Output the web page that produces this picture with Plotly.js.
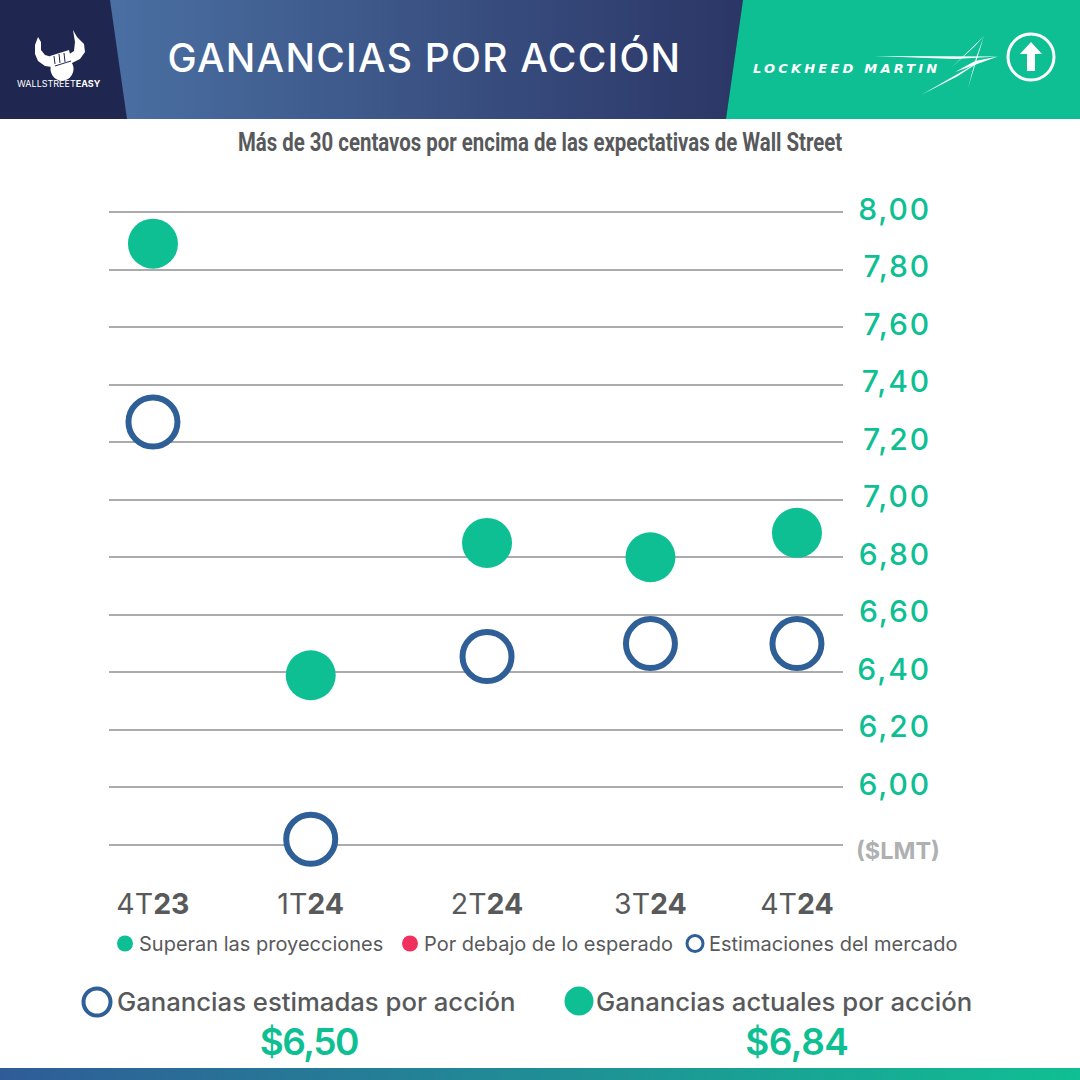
<!DOCTYPE html>
<html>
<head>
<meta charset="utf-8">
<script src="https://cdn.plot.ly/plotly-3.0.1.min.js"></script>
<style>
html,body{margin:0;padding:0;background:#fff;width:1080px;height:1080px;overflow:hidden}
#hdrLeft,#hdrMid,#hdrRight,#footBar{position:absolute;left:0;width:1080px}
#hdrLeft{top:0;height:119px;background:#1f2750}
#hdrMid{top:0;height:119px;background:linear-gradient(90deg,#4a6fa2 110px,#2b3666 743px);clip-path:polygon(110px 0,743px 0,726px 119px,127px 119px)}
#hdrRight{top:0;height:119px;background:#0dbf93;clip-path:polygon(743px 0,1080px 0,1080px 119px,726px 119px)}
#footBar{top:1068px;height:12px;background:linear-gradient(90deg,#2f5c98,#10bf93)}
#chart{position:absolute;left:0;top:0;width:1080px;height:1080px}
.annotation[data-index="0"] text{letter-spacing:1.25px}
.annotation[data-index="2"] text{letter-spacing:3.2px}
.annotation[data-index="3"] text{transform-box:fill-box;transform-origin:center;transform:scaleX(.785)}
.annotation[data-index="7"] text{letter-spacing:-1.5px}
.annotation[data-index="8"] text{letter-spacing:-0.5px}
.ytick text{letter-spacing:1.9px}
.legend .legendtext{transform:translateX(-6px)}
.legend .legendpoints path{stroke-width:3px !important}
</style>
</head>
<body>
<div id="hdrLeft"></div><div id="hdrMid"></div><div id="hdrRight"></div><div id="footBar"></div>
<div id="chart"></div>
<script>
// Data
const quarters = ["4T<b>23</b>", "1T<b>24</b>", "2T<b>24</b>", "3T<b>24</b>", "4T<b>24</b>"];
const quarterPos = [0, 0.98, 2.075, 3.09, 4];
const actualEPS = [7.89, 6.39, 6.85, 6.80, 6.885];
const estimatedEPS = [7.27, 5.82, 6.455, 6.50, 6.50];
const yTicks = [8.0, 7.8, 7.6, 7.4, 7.2, 7.0, 6.8, 6.6, 6.4, 6.2, 6.0, 5.8];
const yTickText = ["8,00", "7,80", "7,60", "7,40", "7,20", "7,00", "6,80", "6,60", "6,40", "6,20", "6,00", ""];
const seriesNames = ["Superan las proyecciones", "Por debajo de lo esperado", "Estimaciones del mercado"];
const titleText = "GANANCIAS POR ACCIÓN";
const subtitleText = "Más de 30 centavos por encima de las expectativas de Wall Street";
const summaryEstLabel = "Ganancias estimadas por acción";
const summaryActLabel = "Ganancias actuales por acción";
const summaryEst = "$6,50";
const summaryAct = "$6,84";

const GREEN = "#0dbf93", BLUE = "#2f5f97", PINK = "#f0305f", GRAY = "#58595b", NAVY = "#1f2750";
const FONT = "Inter, 'Open Sans', sans-serif";
const px = x => x / 1080, py = y => 1 - y / 1080;

function note(text, x, y, size, color, opts) {
  return Object.assign({
    text: text, xref: "paper", yref: "paper", x: px(x), y: py(y),
    showarrow: false, xanchor: "center", yanchor: "middle",
    font: {family: FONT, size: size, color: color}
  }, opts || {});
}
function pathShape(d, fill, lineColor, lineWidth) {
  return {type: "path", xref: "paper", yref: "paper", path: d,
    fillcolor: fill || "rgba(0,0,0,0)", line: {color: lineColor || "rgba(0,0,0,0)", width: lineWidth || 0}, layer: "above"};
}
function P(points, close) {
  return points.map((p, i) => (i ? "L" : "M") + px(p[0]).toFixed(5) + "," + py(p[1]).toFixed(5)).join(" ") + (close ? " Z" : "");
}
function circ(cx, cy, r, fill, lineColor, lineWidth) {
  return {type: "circle", xref: "paper", yref: "paper", x0: px(cx - r), x1: px(cx + r), y0: py(cy + r), y1: py(cy - r),
    fillcolor: fill, line: {color: lineColor || "rgba(0,0,0,0)", width: lineWidth || 0}, layer: "above"};
}

const traces = [
  {x: quarterPos, y: actualEPS, type: "scatter", mode: "markers", name: seriesNames[0],
   marker: {size: 50, color: GREEN}, cliponaxis: false, hoverinfo: "y"},
  {x: [null], y: [null], type: "scatter", mode: "markers", name: seriesNames[1],
   marker: {size: 16, color: PINK}, hoverinfo: "skip"},
  {x: quarterPos, y: estimatedEPS, type: "scatter", mode: "markers", name: seriesNames[2],
   marker: {size: 49, color: "#ffffff", line: {color: BLUE, width: 6}}, cliponaxis: false, hoverinfo: "y"}
];

const shapes = [
  // bull logo: horns, fist, head
  pathShape(P([[38,37],[41,42],[41,50],[45,55],[52,57],[52,67],[45,66],[38,61],[35,54],[35,45]], true), "#fff"),
  pathShape(P([[73,30],[77,37],[84,44],[85,52],[80,59],[72,63],[68,64],[68,55],[74,51],[75,42]], true), "#fff"),
  pathShape(P([[50,56],[69,50],[72,62],[63,66],[52,68]], true), "#fff"),
  circ(62, 69, 11.5, "#fff"),
  pathShape(P([[54,56],[55,64]]), null, NAVY, 1),
  pathShape(P([[59,54],[60,63]]), null, NAVY, 1),
  pathShape(P([[64,53],[65,62]]), null, NAVY, 1),
  pathShape(P([[55,66],[71,61]]), null, NAVY, 1),
  // Lockheed star
  pathShape(P([[874,56],[998,56.5],[955,59]], true), "#fff"),
  pathShape(P([[998,56.5],[955,72],[975,61]], true), "#fff"),
  pathShape(P([[984,36],[951,68],[975,46]], true), "#fff"),
  pathShape(P([[984,36],[968,88],[976,58]], true), "#fff"),
  pathShape(P([[921,95],[982,60],[958,76]], true), "#fff"),
  // arrow icon
  circ(1031, 57, 23, "rgba(0,0,0,0)", "#fff", 3),
  pathShape(P([[1031,42],[1042,54],[1035,54],[1035,71],[1027,71],[1027,54],[1020,54]], true), "#fff"),
  // summary markers
  circ(97, 1002, 13.5, "#fff", BLUE, 4),
  circ(579, 1001, 14.5, GREEN)
];

const annotations = [
  note(titleText, 424, 57, 39, "#ffffff", {font: {family: FONT, size: 39, color: "#fff", weight: 500}}),
  note("WALLSTREET<b>EASY</b>", 59, 84, 9, "#ffffff"),
  note("LOCKHEED MARTIN", 847, 68, 13, "#ffffff", {font: {family: "'DejaVu Sans'", size: 13, color: "#fff", weight: 700, style: "italic"}}),
  note(subtitleText, 540, 142, 26, "#58595b", {font: {family: "Roboto", size: 26, color: "#58595b", weight: 700}}),
  note("($LMT)", 898, 850, 23.5, "#aeb0b2", {font: {family: FONT, size: 23.5, color: "#aeb0b2", weight: 700}}),
  note(summaryEstLabel, 316, 1001, 25.7, GRAY, {font: {family: FONT, size: 25.7, color: GRAY, weight: 500}}),
  note(summaryActLabel, 784, 1001, 25.7, GRAY, {font: {family: FONT, size: 25.7, color: GRAY, weight: 500}}),
  note(summaryEst, 309, 1041, 37, GREEN, {font: {family: FONT, size: 37, color: GREEN, weight: 600}}),
  note(summaryAct, 797, 1041, 37, GREEN, {font: {family: FONT, size: 37, color: GREEN, weight: 600}})
];

const layout = {
  width: 1080, height: 1080, autosize: false,
  margin: {l: 0, r: 0, t: 0, b: 0, pad: 0},
  paper_bgcolor: "rgba(0,0,0,0)", plot_bgcolor: "rgba(0,0,0,0)",
  hovermode: "closest",
  xaxis: {
    domain: [px(109), px(843)], range: [-0.273, 4.286],
    tickmode: "array", tickvals: quarterPos, ticktext: quarters,
    showgrid: false, zeroline: false, showline: false, ticks: "",
    tickfont: {family: FONT, size: 28.5, color: GRAY}, ticklabelstandoff: 37,
    automargin: false, fixedrange: true
  },
  yaxis: {
    domain: [py(847), py(210)], range: [5.793, 8.007],
    anchor: "free", position: px(931), side: "left",
    tickmode: "array", tickvals: yTicks, ticktext: yTickText,
    showgrid: true, gridcolor: "#a9abad", gridwidth: 2, zeroline: false, showline: false, ticks: "",
    tickfont: {family: FONT, size: 30, color: GREEN, weight: 500}, ticklabelshift: -3,
    automargin: false, fixedrange: true
  },
  showlegend: true,
  legend: {
    orientation: "h", x: px(105), y: py(924), xanchor: "left", yanchor: "top",
    bgcolor: "rgba(0,0,0,0)", itemsizing: "trace", itemwidth: 30, entrywidth: 240, entrywidthmode: "pixels",
    font: {family: FONT, size: 20, color: GRAY}, traceorder: "normal",
    itemclick: false, itemdoubleclick: false
  },
  shapes: shapes, annotations: annotations
};
Plotly.newPlot("chart", traces, layout, {displayModeBar: false, responsive: false});
</script>
</body>
</html>
